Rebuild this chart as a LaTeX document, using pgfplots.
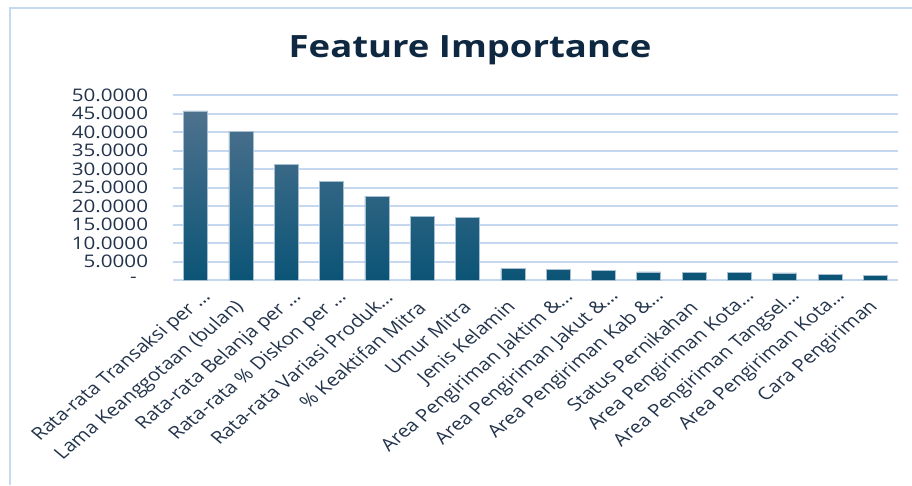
\documentclass[border=0pt]{standalone}
\usepackage{pgfplots}
\pgfplotsset{compat=1.18}
\usepackage{fontspec}
\setmainfont{Open Sans}
\newfontfamily\osn{Open Sans}
\newfontfamily\osst{Open Sans}[FakeStretch=1.19]
\usetikzlibrary{shadings}
\definecolor{titlec}{HTML}{0E2841}
\definecolor{labc}{HTML}{22334B}
\definecolor{gridc}{HTML}{C6D8EF}
\definecolor{framec}{HTML}{C5D9F1}
\definecolor{bartop}{RGB}{78,114,142}
\definecolor{barmid}{RGB}{22,96,131}
\definecolor{barbot}{RGB}{11,84,118}
\definecolor{baredge}{RGB}{165,190,210}
\begin{document}
\begin{tikzpicture}
\useasboundingbox (0,0) rectangle (684pt,-363.75pt);
\fill[white] (0,0) rectangle (684pt,-363.75pt);
\draw[framec, line width=1.4pt] (7.5pt,-363.75pt) -- (7.5pt,-6pt) -- (684pt,-6pt);
\node[anchor=base, text=titlec, inner sep=0pt] at (352.5pt,-43.5pt)
  {\osst\bfseries\fontsize{23}{27}\selectfont Feature Importance};
\begin{axis}[
  at={(129.75pt,-210pt)}, anchor=south west,
  scale only axis, width=543.75pt, height=138.75pt,
  xmin=-0.5, xmax=15.5, ymin=0, ymax=50,
  axis line style={draw=none},
  major tick length=0pt,
  ytick={0,5,...,50},
  yticklabels={-\hspace*{8.5pt},5.0000,10.0000,15.0000,20.0000,25.0000,30.0000,35.0000,40.0000,45.0000,50.0000},
  yticklabel style={font=\osst\fontsize{13}{15}\selectfont, text=labc, inner sep=0pt, anchor=east, xshift=-18.5pt},
  ymajorgrids, major grid style={gridc, line width=1.5pt},
  xtick={0,...,15},
  xticklabels={
    Rata-rata Transaksi per …,
    Lama Keanggotaan (bulan)\hspace*{11pt},
    Rata-rata Belanja per …,
    Rata-rata \% Diskon per …,
    Rata-rata Variasi Produk…,
    \% Keaktifan Mitra\hspace*{11pt},
    Umur Mitra\hspace*{11pt},
    Jenis Kelamin\hspace*{11pt},
    Area Pengiriman Jaktim \&…,
    Area Pengiriman Jakut \&…,
    Area Pengiriman Kab \&…,
    Status Pernikahan\hspace*{11pt},
    Area Pengiriman Kota…,
    Area Pengiriman Tangsel…,
    Area Pengiriman Kota…,
    Cara Pengiriman\hspace*{11pt}},
  xticklabel style={font=\osn\fontsize{13}{15}\selectfont, text=labc, inner sep=0pt,
    anchor=east, xshift=9pt, yshift=-10.5pt, xscale=1.19, rotate=45},
  ybar, bar width=0.53, bar shift=0pt,
  clip=false,
]
\addplot[draw=baredge, line width=0.5pt, top color=bartop, middle color=barmid, bottom color=barbot]
coordinates {
(0,45.7) (1,40.2) (2,31.3) (3,26.7) (4,22.7) (5,17.2) (6,16.9) (7,3.05)
(8,2.8) (9,2.5) (10,2.2) (11,2.15) (12,2.1) (13,1.9) (14,1.6) (15,1.35)
};
\end{axis}
\end{tikzpicture}
\end{document}
